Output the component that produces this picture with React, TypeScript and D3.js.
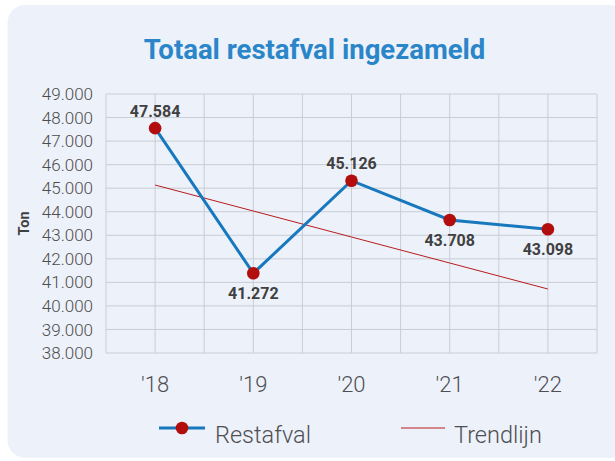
import React from "react";
import * as d3 from "d3";

const categories = ["'18", "'19", "'20", "'21", "'22"];
// positions of the markers as drawn in the picture
const restafval = [47550, 41385, 45318, 43650, 43255];
// value labels as printed on the chart
const restafvalLabels = ["47.584", "41.272", "45.126", "43.708", "43.098"];
const trendlijn = [45134, 44030, 42926, 41822, 40718];
const yTicks = [38000, 39000, 40000, 41000, 42000, 43000, 44000, 45000, 46000, 47000, 48000, 49000];
const labelPos = ["above", "below", "above", "below", "below"];

const W = 615, H = 461;
const M = { left: 106, right: 597, top: 94, bottom: 353 };

const fmt = (v: number) => d3.format(",.0f")(v).replace(/,/g, ".");

export default function App() {
  const x = d3.scaleBand<string>().domain(categories).range([M.left, M.right]);
  const y = d3.scaleLinear().domain([38000, 49000]).range([M.bottom, M.top]);
  const cx = (c: string) => (x(c) as number) + x.bandwidth() / 2;
  const line = d3.line<number>().x((_, i) => cx(categories[i])).y((d) => y(d));
  const vLines: number[] = [];
  categories.forEach((c) => { vLines.push(x(c) as number); vLines.push(cx(c)); });
  vLines.push(M.right);
  const font = "Roboto, 'Open Sans', sans-serif";
  return (
    <svg width={W} height={H} style={{ position: "absolute", left: 0, top: 0 }} fontFamily={font}>
      <rect x={0} y={0} width={W} height={H} fill="#ffffff" />
      <rect x={7.5} y={5} width={620} height={453} rx={18} fill="#edf1fa" />
      <text x={314.5} y={59} textAnchor="middle" fontSize={27.5} fontWeight={700} fill="#2a86c8">Totaal restafval ingezameld</text>
      {yTicks.map((t) => (
        <g key={t}>
          <line x1={M.left} x2={M.right} y1={y(t)} y2={y(t)} stroke="#c9cdd5" strokeWidth={1} />
          <text x={93} y={y(t)} dy="0.36em" textAnchor="end" fontSize={17} fontWeight={300} fill="#4d4d4d">{fmt(t)}</text>
        </g>
      ))}
      {vLines.map((v, i) => (
        <line key={i} x1={v} x2={v} y1={M.top} y2={M.bottom} stroke="#c9cdd5" strokeWidth={1} />
      ))}
      <text transform={`translate(28.5,${(M.top + M.bottom) / 2}) rotate(-90)`} textAnchor="middle" fontSize={14.5} fontWeight={700} fill="#404040">Ton</text>
      {categories.map((c) => (
        <text key={c} x={cx(c)} y={392} textAnchor="middle" fontSize={22} fontWeight={300} fill="#4d4f53">{c}</text>
      ))}
      <path d={line(trendlijn) as string} fill="none" stroke="#b81c1c" strokeWidth={1} />
      <path d={line(restafval) as string} fill="none" stroke="#1878bd" strokeWidth={3} />
      {restafval.map((v, i) => (
        <circle key={i} cx={cx(categories[i])} cy={y(v)} r={6.3} fill="#b20e0e" />
      ))}
      {restafval.map((v, i) => (
        <text key={"l" + i} x={cx(categories[i])} y={labelPos[i] === "above" ? y(v) - 11.5 : y(v) + 26}
          textAnchor="middle" fontSize={16} fontWeight={700} fill="#404040">{restafvalLabels[i]}</text>
      ))}
      <line x1={159} x2={205} y1={428} y2={428} stroke="#1878bd" strokeWidth={3} />
      <circle cx={182} cy={428} r={6.3} fill="#b20e0e" />
      <text x={215} y={443} fontSize={23.5} fontWeight={300} fill="#4d4f53">Restafval</text>
      <line x1={401} x2={445} y1={428} y2={428} stroke="#b81c1c" strokeWidth={1} />
      <text x={454} y={443} fontSize={23.5} fontWeight={300} fill="#4d4f53">Trendlijn</text>
    </svg>
  );
}
